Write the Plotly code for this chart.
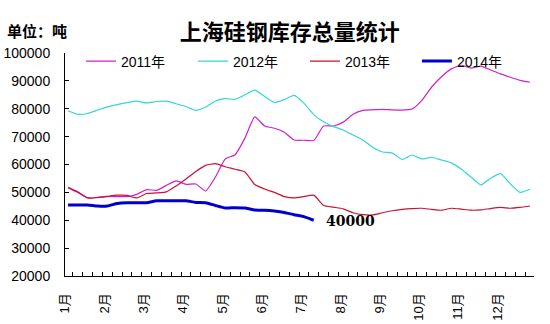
import plotly.graph_objects as go

months = ["1月", "2月", "3月", "4月", "5月", "6月", "7月", "8月", "9月", "10月", "11月", "12月"]
weeks = list(range(48))

s2011 = [51800, 50200, 48000, 48100, 48500, 48500, 48500, 49300, 51000, 50700,
         52500, 54100, 52900, 53000, 50500, 55500, 62000, 63500, 69500, 77100,
         73800, 73000, 71600, 68800, 68700, 68600, 73800, 73800, 75200, 78000,
         79400, 79600, 79800, 79600, 79500, 79900, 83000, 87800, 91500, 94300,
         95600, 94600, 95300, 93900, 92500, 91300, 90200, 89500]
s2012 = [79300, 78000, 78300, 79500, 80700, 81500, 82200, 82700, 82100, 82600,
         82700, 81800, 80800, 79400, 80600, 82800, 83600, 83400, 85000, 86700,
         84400, 82200, 83300, 84800, 82000, 77900, 75300, 73600, 72400, 70600,
         68800, 66200, 64500, 64100, 61800, 63400, 62000, 62600, 61600, 60600,
         58400, 55500, 52700, 55100, 56700, 53100, 50000, 51100]
s2013 = [51700, 50000, 48000, 48200, 48600, 49000, 48900, 48000, 49600, 49800,
         50200, 52300, 54800, 57500, 59700, 60300, 59200, 58300, 57300, 52800,
         51200, 50000, 48500, 48000, 48500, 49000, 45300, 44700, 44100, 42700,
         42000, 41900, 42700, 43400, 43900, 44200, 44300, 43900, 43600, 44300,
         44000, 43600, 43700, 44200, 44600, 44300, 44600, 45100]
s2014 = [45500, 45500, 45500, 45100, 45100, 46000, 46300, 46300, 46300, 47000,
         47000, 47000, 47000, 46400, 46300, 45300, 44400, 44500, 44400, 43700,
         43600, 43300, 42800, 42000, 41300, 40000]

series = [
    ("2011年", s2011, "#CC22CC", 1.2),
    ("2012年", s2012, "#33D6D6", 1.2),
    ("2013年", s2013, "#CC1133", 1.2),
    ("2014年", s2014, "#0000CC", 3),
]

fig = go.Figure()
for name, vals, color, w in series:
    fig.add_trace(go.Scatter(
        x=weeks[:len(vals)], y=vals, mode="lines", name=name,
        line=dict(color=color, width=w, shape="spline", smoothing=0.5),
    ))

last_val = s2014[-1]
fig.add_annotation(
    x=len(s2014) - 1, y=last_val, text="<b>%d</b>" % last_val,
    showarrow=False, xanchor="left", yanchor="middle", xshift=10, yshift=-1,
    font=dict(family="DejaVu Serif", size=14, color="black"),
)
fig.add_annotation(
    xref="paper", yref="paper", x=-0.128, y=1.1, text="<b>单位：吨</b>",
    showarrow=False, xanchor="left", yanchor="middle",
    font=dict(family="Noto Sans CJK SC", size=15, color="black"),
)

fig.update_layout(
    width=550, height=324,
    margin=dict(l=65, r=16, t=53, b=48, autoexpand=False),
    paper_bgcolor="white", plot_bgcolor="white",
    title=dict(text="<b>上海硅钢库存总量统计</b>", x=0.527, xanchor="center",
               y=0.9, yanchor="middle", yref="container",
               font=dict(family="Noto Sans CJK SC", size=22, color="black")),
    font=dict(family="Liberation Sans, Noto Sans CJK SC", size=13, color="black"),
    showlegend=True,
    legend=dict(orientation="h", x=0.034, y=0.962,
                xanchor="left", yanchor="middle",
                bgcolor="rgba(0,0,0,0)", itemwidth=30,
                entrywidth=67, entrywidthmode="pixels",
                font=dict(family="Liberation Sans, Noto Sans CJK SC", size=14)),
)

fig.update_xaxes(
    range=[-0.31, 47.41], tickmode="array",
    tickvals=[i * 4 - 0.3 for i in range(12)], ticktext=months,
    tickangle=-90, ticks="", showline=True, linecolor="black", linewidth=1,
    showgrid=False, zeroline=False, ticklabelstandoff=11, automargin=False,
    tickfont=dict(family="Liberation Sans, Noto Sans CJK SC", size=13),
    minor=dict(tickmode="array", tickvals=[i + 0.5 for i in range(47)],
               ticks="inside", ticklen=4, tickcolor="black", tickwidth=1, showgrid=False),
)
fig.update_yaxes(
    range=[20000, 100000], dtick=10000, tick0=20000, tickformat="d",
    ticks="inside", ticklen=4, tickcolor="black",
    showline=True, linecolor="black", linewidth=1, automargin=False,
    showgrid=False, zeroline=False, ticklabelstandoff=11,
    tickfont=dict(family="Liberation Sans", size=14),
)

fig.write_html("out.html")
